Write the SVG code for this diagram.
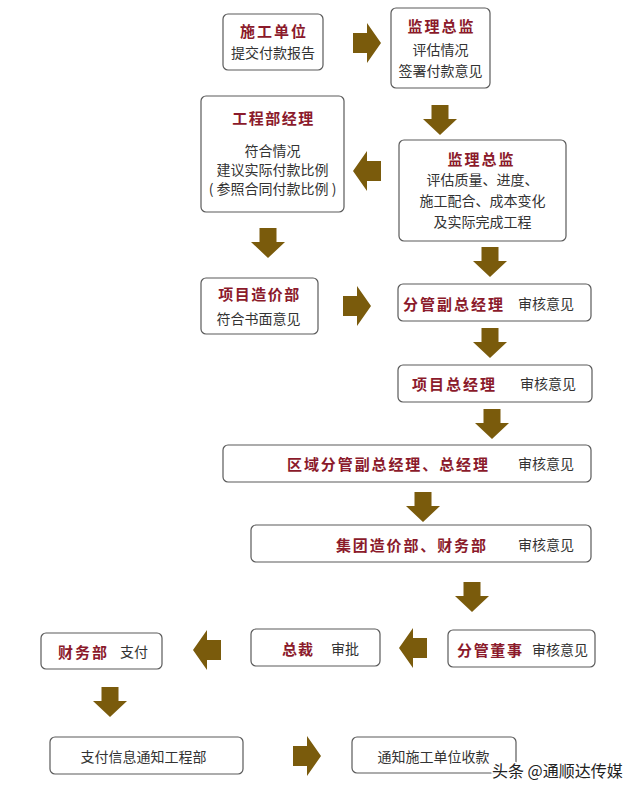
<svg xmlns="http://www.w3.org/2000/svg" xmlns:xlink="http://www.w3.org/1999/xlink" width="640" height="793" viewBox="0 0 640 793">
<style>
.box{fill:#fff;stroke:#5a5a5a;stroke-width:1.2}
.t{font-family:"Noto Sans CJK SC","Noto Sans CJK JP",sans-serif;font-weight:700;font-size:15px;fill:#8b1a2b;dominant-baseline:central}
.s{font-family:"Noto Sans CJK SC","Noto Sans CJK JP",sans-serif;font-size:14px;fill:#333;dominant-baseline:central}
.c{text-anchor:middle}
.arr{fill:#7a5b0c}
.wm{font-family:"Noto Sans CJK SC","Noto Sans CJK JP",sans-serif;font-size:16px;fill:#222;stroke:#fff;stroke-width:3;paint-order:stroke;dominant-baseline:central}
</style>
<defs>
<polygon id="down" points="8.5,0 25.5,0 25.5,14 34,14 17,30 0,14 8.5,14"/>
<polygon id="right" points="0,10 14,10 14,0 28,20 14,40 14,30 0,30"/>
<polygon id="left" points="28,10 14,10 14,0 0,20 14,40 14,30 28,30"/>
</defs>
<rect width="640" height="793" fill="#fff"/>
<g id="connectors" class="arr">
<use href="#right" x="353" y="23"/>
<use href="#down" x="423" y="105"/>
<use href="#left" x="353" y="151"/>
<use href="#down" x="251" y="228"/>
<use href="#down" x="473" y="247"/>
<use href="#right" x="343" y="286"/>
<use href="#down" x="473" y="328"/>
<use href="#down" x="475" y="409"/>
<use href="#down" x="406" y="492"/>
<use href="#down" x="455" y="582"/>
<use href="#left" x="399" y="628"/>
<use href="#left" x="193" y="630"/>
<use href="#down" x="93" y="687"/>
<use href="#right" x="293" y="736"/>
</g>
<g id="n1">
<rect class="box" x="223" y="14" width="100" height="56" rx="5"/>
<text class="t c" x="274" y="30" letter-spacing="2">施工单位</text>
<text class="s c" x="273" y="52">提交付款报告</text>
</g>
<g id="n2">
<rect class="box" x="391" y="8" width="99" height="80" rx="5"/>
<text class="t c" x="441.5" y="25" letter-spacing="2">监理总监</text>
<text class="s c" x="440.5" y="49">评估情况</text>
<text class="s c" x="440.5" y="70">签署付款意见</text>
</g>
<g id="n3">
<rect class="box" x="201" y="96" width="143" height="116" rx="5"/>
<text class="t c" x="273.5" y="117" letter-spacing="1.5">工程部经理</text>
<text class="s c" x="272.5" y="150">符合情况</text>
<text class="s c" x="272.5" y="169">建议实际付款比例</text>
<text class="s c" x="272.5" y="188">( 参照合同付款比例 )</text>
</g>
<g id="n4">
<rect class="box" x="399" y="140" width="167" height="101" rx="5"/>
<text class="t c" x="481.5" y="158" letter-spacing="2">监理总监</text>
<text class="s c" x="482.5" y="179">评估质量、进度、</text>
<text class="s c" x="482.5" y="200">施工配合、成本变化</text>
<text class="s c" x="482.5" y="221">及实际完成工程</text>
</g>
<g id="n5">
<rect class="box" x="201" y="278" width="117" height="56" rx="5"/>
<text class="t c" x="259.5" y="293" letter-spacing="1.5">项目造价部</text>
<text class="s c" x="258.5" y="318">符合书面意见</text>
</g>
<g id="n6">
<rect class="box" x="398" y="284" width="193" height="37" rx="5"/>
<text class="t" x="403" y="303" textLength="100" lengthAdjust="spacing">分管副总经理</text>
<text class="s" x="518" y="303">审核意见</text>
</g>
<g id="n7">
<rect class="box" x="398" y="365" width="194" height="37" rx="5"/>
<text class="t" x="412" y="383" textLength="83" lengthAdjust="spacing">项目总经理</text>
<text class="s" x="520" y="383">审核意见</text>
</g>
<g id="n8">
<rect class="box" x="223" y="445" width="368" height="37" rx="5"/>
<text class="t" x="287" y="463" textLength="201" lengthAdjust="spacing">区域分管副总经理、总经理</text>
<text class="s" x="518" y="463">审核意见</text>
</g>
<g id="n9">
<rect class="box" x="251" y="525" width="340" height="37" rx="5"/>
<text class="t" x="336" y="544" textLength="150" lengthAdjust="spacing">集团造价部、财务部</text>
<text class="s" x="518" y="544">审核意见</text>
</g>
<g id="n10">
<rect class="box" x="448" y="630" width="147" height="37" rx="5"/>
<text class="t" x="457" y="649" textLength="65" lengthAdjust="spacing">分管董事</text>
<text class="s" x="532" y="649">审核意见</text>
</g>
<g id="n11">
<rect class="box" x="251" y="629" width="129" height="37" rx="5"/>
<text class="t" x="282" y="648" textLength="31" lengthAdjust="spacing">总裁</text>
<text class="s" x="331" y="648">审批</text>
</g>
<g id="n12">
<rect class="box" x="41" y="633" width="121" height="36" rx="5"/>
<text class="t" x="58" y="651" textLength="49" lengthAdjust="spacing">财务部</text>
<text class="s" x="120" y="651">支付</text>
</g>
<g id="n13">
<rect class="box" x="50" y="737" width="193" height="37" rx="5"/>
<text class="s c" x="143.5" y="756">支付信息通知工程部</text>
</g>
<g id="n14">
<rect class="box" x="352" y="737" width="164" height="36" rx="5"/>
<text class="s c" x="433.5" y="756">通知施工单位收款</text>
</g>
<text class="wm" x="492" y="770">头条 @通顺达传媒</text>
</svg>
